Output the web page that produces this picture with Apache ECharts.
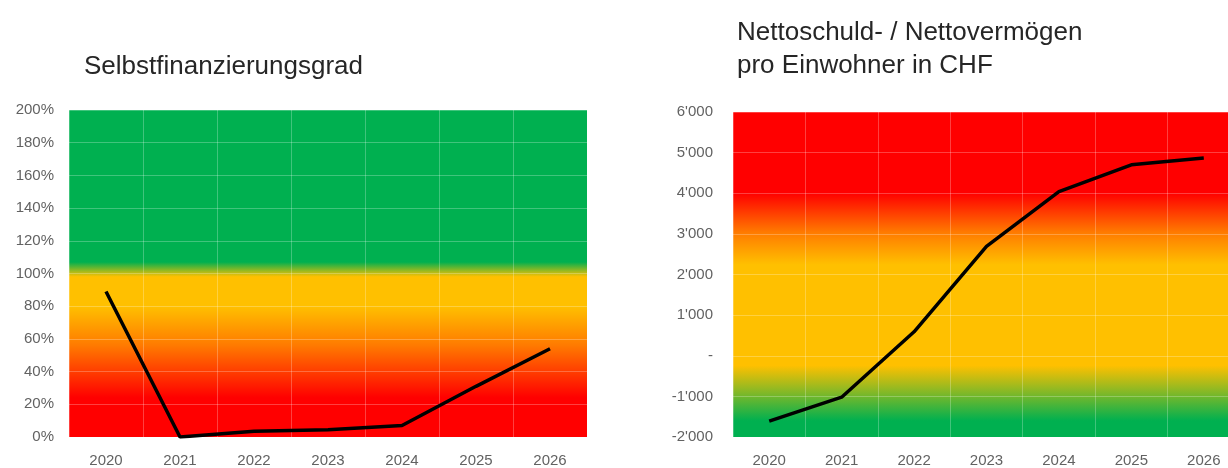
<!DOCTYPE html>
<html>
<head>
<meta charset="utf-8">
<script src="https://cdn.jsdelivr.net/npm/echarts@6/dist/echarts.min.js"></script>
<style>
  html, body { margin: 0; padding: 0; background: #fff; overflow: hidden; }
  /* das rechte Diagramm läuft im Original über den Rand hinaus */
  #chart { width: 1250px; height: 468px; }
</style>
</head>
<body>
<div id="chart"></div>
<script>
// Jahre
const years = ['2020', '2021', '2022', '2023', '2024', '2025', '2026']
// Selbstfinanzierungsgrad in %
const selbstfinanzierung = [89, 0, 3.5, 4.5, 7, 31, 54]
// Nettoschuld / Nettovermögen pro Einwohner in CHF
const nettoschuld = [-1610, -1020, 590, 2690, 4040, 4700, 4870]
// Titel
const titelLinks = 'Selbstfinanzierungsgrad'
const titelRechts = ['Nettoschuld- / Nettovermögen', 'pro Einwohner in CHF']

const chart = echarts.init(document.getElementById('chart'))

// Hintergrundverlauf wie im Original
const bgLeft = new echarts.graphic.LinearGradient(0, 0, 0, 1, [
  { offset: 0, color: '#00b050' },
  { offset: 0.465, color: '#00b050' },
  { offset: 0.51, color: '#ffc000' },
  { offset: 0.6, color: '#ffc000' },
  { offset: 0.72, color: '#ff7a00' },
  { offset: 0.88, color: '#ff0000' },
  { offset: 1, color: '#ff0000' }
])
const bgRight = new echarts.graphic.LinearGradient(0, 0, 0, 1, [
  { offset: 0, color: '#ff0000' },
  { offset: 0.25, color: '#ff0000' },
  { offset: 0.37, color: '#ff7a00' },
  { offset: 0.47, color: '#ffc000' },
  { offset: 0.78, color: '#ffc000' },
  { offset: 0.95, color: '#00b050' },
  { offset: 1, color: '#00b050' }
])

const fontFam = 'Liberation Sans, Arial, sans-serif'
const labelStyle = { color: '#626262', fontSize: 15, fontFamily: fontFam }
const splitStyle = { show: true, lineStyle: { color: 'rgba(255,255,255,0.25)', width: 1 } }
const titleStyle = { fontSize: 26, fontWeight: 'normal', color: '#262626', fontFamily: fontFam }

function chf(v) {
  if (v === 0) return '-'
  const s = Math.abs(v).toString().replace(/\B(?=(\d{3})+(?!\d))/g, "'")
  return (v < 0 ? '-' : '') + s
}

const option = {
  animation: false,
  title: [
    { text: titelLinks, left: 79, top: 49, textStyle: titleStyle },
    { text: titelRechts.join('\n'), left: 732, top: 11, textStyle: Object.assign({ lineHeight: 33 }, titleStyle) }
  ],
  grid: [
    { left: 69, top: 110, width: 518, height: 328, show: true, borderWidth: 0, backgroundColor: bgLeft },
    { left: 733, top: 112, width: 507, height: 327, show: true, borderWidth: 0, backgroundColor: bgRight }
  ],
  xAxis: [
    {
      gridIndex: 0, type: 'category', data: years, boundaryGap: true,
      axisLine: { show: false }, axisTick: { show: false },
      axisLabel: Object.assign({ margin: 16 }, labelStyle),
      splitLine: splitStyle
    },
    {
      gridIndex: 1, type: 'category', data: years, boundaryGap: true,
      axisLine: { show: false }, axisTick: { show: false },
      axisLabel: Object.assign({ margin: 16 }, labelStyle),
      splitLine: splitStyle
    }
  ],
  yAxis: [
    {
      gridIndex: 0, type: 'value', min: 0, max: 200, interval: 20,
      axisLine: { show: false }, axisTick: { show: false },
      axisLabel: Object.assign({ margin: 15, formatter: v => v + '%' }, labelStyle),
      splitLine: splitStyle
    },
    {
      gridIndex: 1, type: 'value', min: -2000, max: 6000, interval: 1000,
      axisLine: { show: false }, axisTick: { show: false },
      axisLabel: Object.assign({ margin: 20, formatter: chf }, labelStyle),
      splitLine: splitStyle
    }
  ],
  series: [
    {
      type: 'line', xAxisIndex: 0, yAxisIndex: 0, data: selbstfinanzierung,
      showSymbol: false, lineStyle: { color: '#000', width: 3.5 }
    },
    {
      type: 'line', xAxisIndex: 1, yAxisIndex: 1, data: nettoschuld,
      showSymbol: false, lineStyle: { color: '#000', width: 3.5 }
    }
  ]
}

chart.setOption(option)
</script>
</body>
</html>
